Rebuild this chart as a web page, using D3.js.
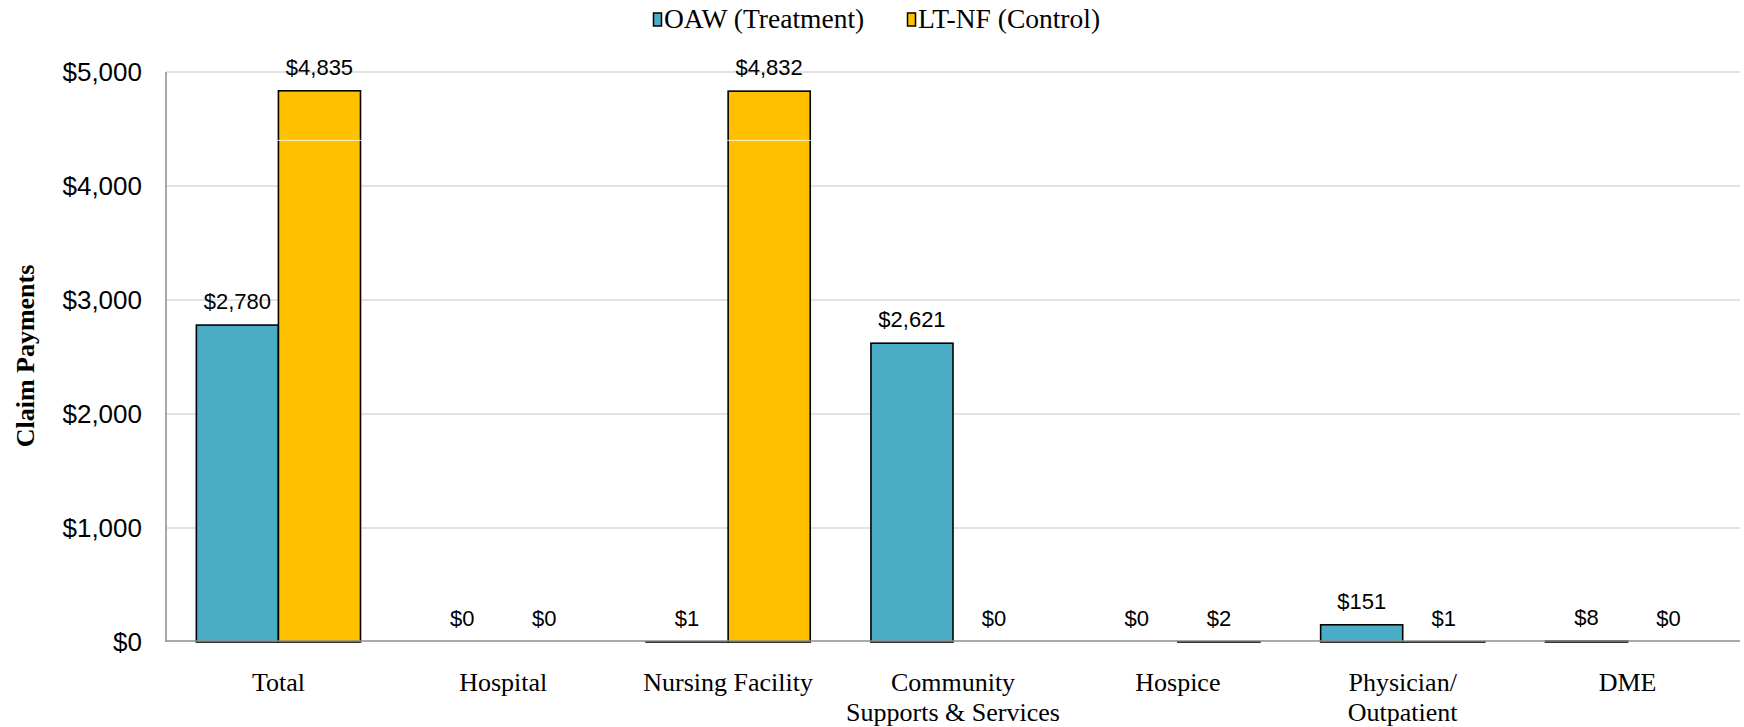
<!DOCTYPE html>
<html><head><meta charset="utf-8">
<script src="https://cdn.jsdelivr.net/npm/d3@7"></script>
<style>body{margin:0;background:#fff}</style>
</head><body>
<svg id="c" width="1744" height="727"></svg>
<script>
const categories = [["Total"],["Hospital"],["Nursing Facility"],["Community","Supports & Services"],["Hospice"],["Physician/","Outpatient"],["DME"]];
const seriesNames = ["OAW (Treatment)","LT-NF (Control)"];
const oawValues = [2780, 0, 1, 2621, 0, 151, 8];
const ltnfValues = [4835, 0, 4832, 0, 2, 1, 0];
const yTicks = [0,1000,2000,3000,4000,5000];
const colors = ["#4BACC6","#FFC000"];

const svg = d3.select("#c");
const L = 166, R = 1740, T = 72, B = 642;
const y = d3.scaleLinear().domain([0,5000]).range([B,T]);
const x0 = d3.scaleBand().domain(d3.range(categories.length)).range([L,R]).paddingInner(0.27).paddingOuter(0.135);
const x1 = d3.scaleBand().domain([0,1]).range([0,x0.bandwidth()]);
const fmt = v => "$" + d3.format(",")(v);

// gridlines
svg.append("g").selectAll("line").data(yTicks.filter(d=>d>0)).join("line")
  .attr("x1",L).attr("x2",R).attr("y1",d=>y(d)).attr("y2",d=>y(d))
  .attr("stroke","#d9d9d9").attr("stroke-width",1.5);

// y tick labels
svg.append("g").selectAll("text").data(yTicks).join("text")
  .attr("x",142).attr("y",d=>y(d)).attr("dy","0.36em").attr("text-anchor","end")
  .attr("font-family","Liberation Sans, Arial, sans-serif").attr("font-size",26).attr("fill","#000")
  .text(fmt);

// bars
const data = [];
categories.forEach((c,i)=>{ data.push({i,s:0,v:oawValues[i]}); data.push({i,s:1,v:ltnfValues[i]}); });
svg.append("g").selectAll("rect").data(data.filter(d=>d.v>0)).join("rect")
  .attr("x",d=>x0(d.i)+x1(d.s)).attr("width",x1.bandwidth())
  .attr("y",d=>y(d.v)).attr("height",d=>B-y(d.v))
  .attr("fill",d=>colors[d.s]).attr("stroke","#000").attr("stroke-width",1.6);

// rendering artifact line
svg.append("line").attr("x1",L-1).attr("x2",R).attr("y1",y(4400)).attr("y2",y(4400))
  .attr("stroke","#fff").attr("stroke-width",1).attr("opacity",0.8);

// axes lines
svg.append("line").attr("x1",L).attr("x2",L).attr("y1",T).attr("y2",B).attr("stroke","#8c8c8c").attr("stroke-width",1.5);
svg.append("line").attr("x1",L).attr("x2",R).attr("y1",B-1).attr("y2",B-1).attr("stroke","#8c8c8c").attr("stroke-width",1.6);

// data labels
svg.append("g").selectAll("text").data(data).join("text")
  .attr("x",d=>x0(d.i)+x1(d.s)+x1.bandwidth()/2).attr("y",d=>y(d.v)-16)
  .attr("text-anchor","middle").attr("font-family","Liberation Sans, Arial, sans-serif")
  .attr("font-size",22).attr("fill","#000").text(d=>fmt(d.v));

// category labels
const cg = svg.append("g").selectAll("text").data(categories).join("text")
  .attr("x",(d,i)=>x0(i)+x0.bandwidth()/2).attr("y",691).attr("text-anchor","middle")
  .attr("font-family","Liberation Serif, Times New Roman, serif").attr("font-size",26).attr("fill","#000");
cg.selectAll("tspan").data(d=>d).join("tspan")
  .attr("x",function(){return this.parentNode.getAttribute("x");})
  .attr("dy",(d,j)=>j===0?0:30).text(d=>d);

// y title
svg.append("text").attr("transform","translate(34,356) rotate(-90)").attr("text-anchor","middle")
  .attr("font-family","Liberation Serif, Times New Roman, serif").attr("font-weight","bold")
  .attr("font-size",26).text("Claim Payments");

// legend
const legX = [653, 907];
const lg = svg.append("g").selectAll("g").data(seriesNames).join("g")
  .attr("transform",(d,i)=>`translate(${legX[i]},0)`);
lg.append("rect").attr("x",0.5).attr("y",13).attr("width",8).attr("height",13)
  .attr("fill",(d,i)=>colors[i]).attr("stroke","#000").attr("stroke-width",1.5);
lg.append("text").attr("x",11).attr("y",28).attr("font-family","Liberation Serif, Times New Roman, serif")
  .attr("font-size",27.5).text(d=>d);
</script>
</body></html>
